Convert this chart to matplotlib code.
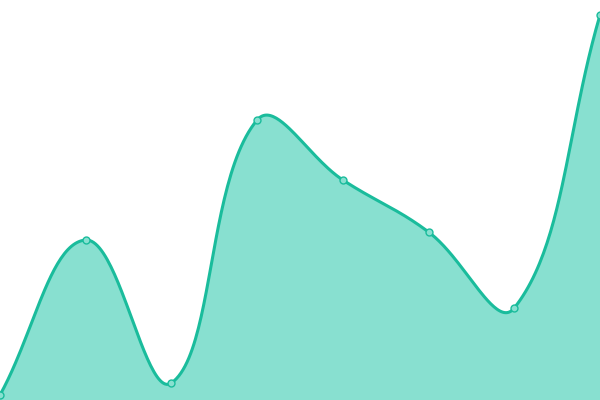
import numpy as np
import matplotlib
matplotlib.use("Agg")
import matplotlib.pyplot as plt

# data
x_vals = [0, 1, 2, 3, 4, 5, 6, 7]
y_vals = [5, 160, 17, 280, 220, 168, 92, 385]

line_col = "#1abc9c"
fill_col = "#88e0d0"


def smooth(xs, ys, sx=600 / 7, tension=0.4, n=50):
    # spline with control points scaled by neighbour distances (pixel space)
    P = np.column_stack([np.asarray(xs, float) * sx, np.asarray(ys, float)])
    N = len(P)
    cp_prev = P.copy()
    cp_next = P.copy()
    for i in range(N):
        prev = P[i - 1] if i > 0 else P[i]
        nxt = P[i + 1] if i < N - 1 else P[i]
        d01 = np.hypot(*(P[i] - prev))
        d12 = np.hypot(*(nxt - P[i]))
        tot = d01 + d12
        s01 = d01 / tot if tot else 0
        s12 = d12 / tot if tot else 0
        cp_prev[i] = P[i] - tension * s01 * (nxt - prev)
        cp_next[i] = P[i] + tension * s12 * (nxt - prev)
    out = [P[:1]]
    t = np.linspace(0, 1, n)[1:, None]
    for i in range(N - 1):
        p1, c1, c2, p2 = P[i], cp_next[i], cp_prev[i + 1], P[i + 1]
        out.append((1 - t) ** 3 * p1 + 3 * (1 - t) ** 2 * t * c1
                   + 3 * (1 - t) * t ** 2 * c2 + t ** 3 * p2)
    out = np.vstack(out)
    return out[:, 0] / sx, out[:, 1]


cx, cy = smooth(x_vals, y_vals)

fig = plt.figure(figsize=(6, 4), dpi=100)
ax = fig.add_axes([0, 0, 1, 1])
ax.fill_between(cx, 0, cy, color=fill_col, lw=0)
ax.plot(cx, cy, color=line_col, lw=2.2, solid_capstyle="round")
ax.plot(x_vals, y_vals, "o", ms=5, mfc=fill_col, mec=line_col, mew=1.0, clip_on=False)
ax.set_xlim(0, 7)
ax.set_ylim(0, 400)
ax.axis("off")
fig.savefig("out.png", dpi=100)
